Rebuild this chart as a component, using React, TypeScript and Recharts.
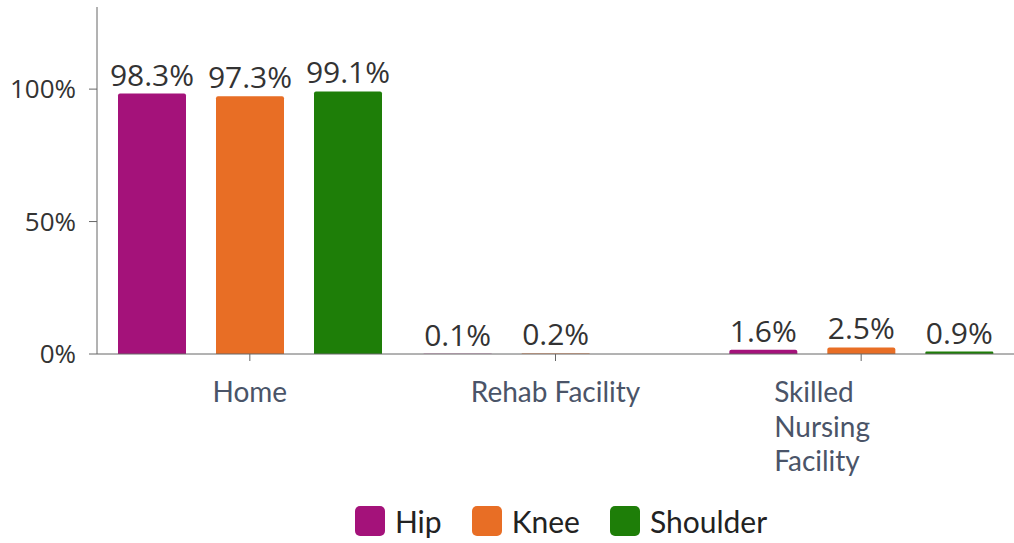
import React from "react"
import { BarChart, Bar, XAxis, YAxis, Legend, LabelList } from "recharts"

const categories = ["Home", "Rehab Facility", "Skilled Nursing Facility"]
const hip = [98.3, 0.1, 1.6]
const knee = [97.3, 0.2, 2.5]
const shoulder: (number | null)[] = [99.1, null, 0.9]
const yTicks = [0, 50, 100]

const series = [
  { key: "hip", name: "Hip", color: "#A4127A" },
  { key: "knee", name: "Knee", color: "#E86E25" },
  { key: "shoulder", name: "Shoulder", color: "#1E7E08" },
]

const data = categories.map((c, i) => ({
  category: c,
  hip: hip[i],
  knee: knee[i],
  shoulder: shoulder[i],
}))

const CategoryTick = (props: any) => {
  const { x, y, payload } = props
  const label: string = payload.value
  const lines = label.length > 16 ? label.split(" ") : [label]
  const multi = lines.length > 1
  const tx = multi ? x - 87 : x
  return (
    <text x={tx} y={y + 39} textAnchor={multi ? "start" : "middle"} fill="#4A5468" fontFamily="Lato" fontSize={28}>
      {lines.map((l, i) => (
        <tspan key={i} x={tx} dy={i === 0 ? 0 : 34.5}>
          {l}
        </tspan>
      ))}
    </text>
  )
}

const LegendContent = () => (
  <div style={{ display: "flex", justifyContent: "center", alignItems: "center", gap: 30, paddingLeft: 108 }}>
    {series.map((s) => (
      <div key={s.key} style={{ display: "flex", alignItems: "center", gap: 10 }}>
        <span style={{ width: 30, height: 30, borderRadius: 5, background: s.color, display: "inline-block" }} />
        <span style={{ fontFamily: "Lato", fontSize: 30, color: "#222" }}>{s.name}</span>
      </div>
    ))}
  </div>
)

export default function App() {
  return (
    <div style={{ position: "absolute", left: 0, top: 0, background: "#fff" }}>
      <BarChart
        width={1014}
        height={543}
        data={data}
        margin={{ top: 7, right: 0, left: 0, bottom: 0 }}
        barSize={68}
        barGap={30}
      >
        <YAxis
          width={97}
          domain={[0, 131]}
          ticks={yTicks}
          tickFormatter={(v: number) => `${v}%`}
          tickSize={8}
          tickMargin={13}
          stroke="#666"
          tick={{ fill: "#333", fontFamily: "Open Sans", fontSize: 26 }}
        />
        <XAxis dataKey="category" height={149} tickSize={7} stroke="#666" tick={<CategoryTick />} />
        <Legend height={40} content={<LegendContent />} />
        {series.map((s) => (
          <Bar key={s.key} dataKey={s.key} name={s.name} fill={s.color} radius={[2, 2, 0, 0]} isAnimationActive={false}>
            <LabelList
              dataKey={s.key}
              position="top"
              offset={8}
              formatter={(v: any) => (v == null ? "" : `${v}%`)}
              fill="#333"
              fontFamily="Open Sans"
              fontSize={30}
            />
          </Bar>
        ))}
      </BarChart>
    </div>
  )
}
